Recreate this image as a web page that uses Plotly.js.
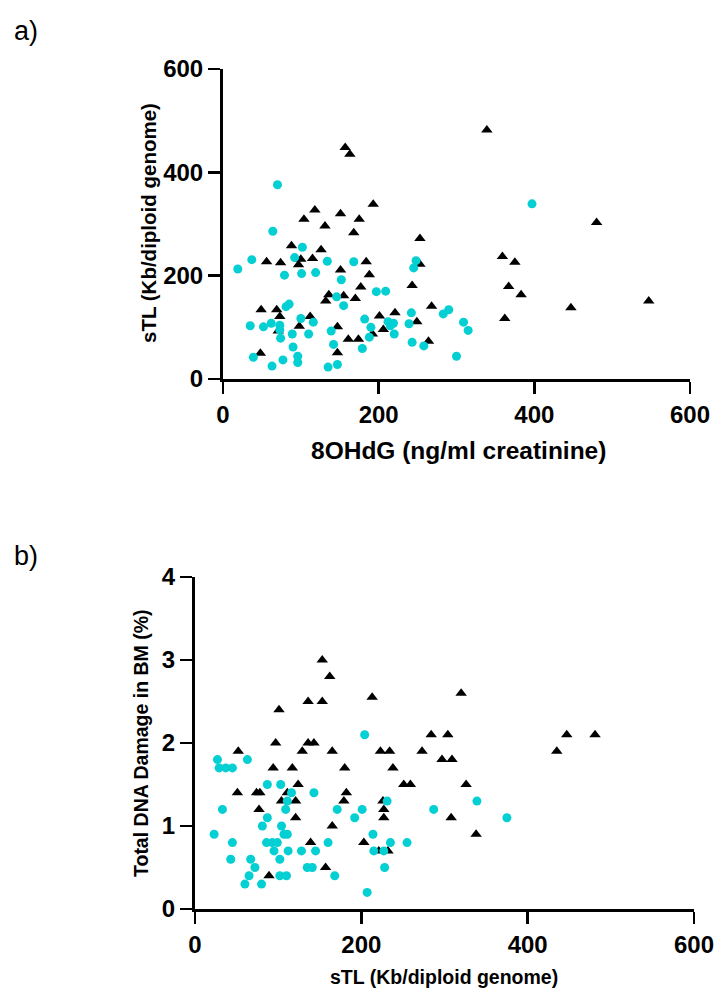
<!DOCTYPE html>
<html>
<head>
<meta charset="utf-8">
<script src="https://cdn.plot.ly/plotly-3.0.1.min.js"></script>
<style>html,body{margin:0;padding:0;background:#fff;}#chart{width:718px;height:990px;}</style>
</head>
<body>
<div id="chart"></div>
<script>
// Panel a: sTL vs 8OHdG
const aTriX = [157,163,339,193,480,118,104,131,151,175,168,253,88,126,359,375,56,74,100,115,97,184,253,151,188,177,243,367,383,136,132,155,170,268,447,547,49,69,73,112,201,221,249,362,98,147,206,71,192,161,174,264,48,147];
const aTriY = [448,435,482,338,303,327,309,296,320,309,283,272,258,250,237,226,227,225,232,233,221,227,222,211,202,178,181,179,163,163,151,161,156,141,138,151,134,134,121,121,122,128,111,117,102,101,96,93,87,77,77,73,50,51];
const aCirX = [70,64,19,37,102,92,79,101,119,134,168,152,146,155,81,85,100,116,35,52,62,73,73,74,89,110,90,139,142,39,77,63,96,96,135,147,182,190,188,179,248,245,197,209,212,219,215,220,242,239,243,258,283,290,309,315,300,397];
const aCirY = [376,286,213,231,255,235,201,204,206,228,227,192,159,142,140,145,117,110,103,101,108,104,95,79,87,87,62,93,67,42,37,25,44,32,23,28,116,100,81,59,229,215,169,170,111,108,103,87,128,107,71,64,126,134,110,94,44,339];

// Panel b: Total DNA damage vs sTL
const bTriX = [153,162,136,153,101,213,320,284,304,447,481,435,52,97,136,143,129,165,223,234,273,297,309,94,117,180,238,124,251,259,326,51,74,78,111,182,104,121,179,226,77,227,121,227,308,165,338,139,203,221,232,157,89];
const bTriY = [3.0,2.8,2.5,2.5,2.4,2.55,2.6,2.1,2.1,2.1,2.1,1.9,1.9,2.0,2.0,2.0,1.9,1.9,1.9,1.9,1.9,1.8,1.8,1.7,1.7,1.7,1.7,1.5,1.5,1.5,1.5,1.4,1.4,1.4,1.4,1.4,1.3,1.3,1.3,1.3,1.2,1.2,1.1,1.1,1.1,1.0,0.9,0.8,0.8,0.7,0.7,0.5,0.4];
const bCirX = [27,63,29,37,45,87,103,116,143,111,33,109,171,201,87,192,81,104,23,107,111,45,86,93,99,160,95,112,128,145,102,43,67,72,135,141,168,102,110,65,60,80,204,231,287,339,375,214,235,255,215,227,228,207];
const bCirY = [1.8,1.8,1.7,1.7,1.7,1.5,1.5,1.4,1.4,1.3,1.2,1.2,1.2,1.2,1.1,1.1,1.0,1.0,0.9,0.9,0.9,0.8,0.8,0.8,0.8,0.8,0.7,0.7,0.7,0.7,0.6,0.6,0.6,0.5,0.5,0.5,0.4,0.4,0.4,0.4,0.3,0.3,2.1,1.3,1.2,1.3,1.1,0.9,0.8,0.8,0.7,0.7,0.5,0.2];

const aTicks = [0,200,400,600];
const bXTicks = [0,200,400,600];
const bYTicks = [0,1,2,3,4];

const cyan = '#04CFD3';
const W = 718, H = 990;
const FONT = 'Liberation Sans, Arial, Helvetica, sans-serif';

const traces = [
  {x: aTriX, y: aTriY, xaxis:'x', yaxis:'y', type:'scatter', mode:'markers', cliponaxis:false,
   marker:{symbol:'triangle-up', size:10, color:'#000'}},
  {x: aCirX, y: aCirY, xaxis:'x', yaxis:'y', type:'scatter', mode:'markers', cliponaxis:false,
   marker:{symbol:'circle', size:9, color:cyan}},
  {x: bTriX, y: bTriY, xaxis:'x2', yaxis:'y2', type:'scatter', mode:'markers', cliponaxis:false,
   marker:{symbol:'triangle-up', size:10, color:'#000'}},
  {x: bCirX, y: bCirY, xaxis:'x2', yaxis:'y2', type:'scatter', mode:'markers', cliponaxis:false,
   marker:{symbol:'circle', size:9, color:cyan}}
];

function ax(extra){
  return Object.assign({
    showline:true, linewidth:3, linecolor:'#000', showgrid:false, zeroline:false,
    ticks:'outside', ticklen:12, tickwidth:2.5, tickcolor:'#000',
    tickfont:{family:FONT, size:24, weight:700, color:'#000'},
    fixedrange:true
  }, extra);
}

const layout = {
  width:W, height:H, margin:{l:0,r:0,t:0,b:0},
  paper_bgcolor:'#fff', plot_bgcolor:'#fff', showlegend:false,
  xaxis: ax({domain:[223/W, 690/W], range:[0,600], anchor:'y', tickvals:aTicks, ticktext:aTicks.map(String)}),
  yaxis: ax({domain:[1-379/H, 1-69/H], range:[0,600], anchor:'x', tickvals:aTicks, ticktext:aTicks.map(String)}),
  xaxis2: ax({domain:[195/W, 694/W], range:[0,600], anchor:'y2', tickvals:bXTicks, ticktext:bXTicks.map(String)}),
  yaxis2: ax({domain:[1-909/H, 1-577/H], range:[0,4], anchor:'x2', tickvals:bYTicks, ticktext:bYTicks.map(String)}),
  annotations:[
    {text:'a)', xref:'paper', yref:'paper', x:12/W, y:1-31/H, xanchor:'left', yanchor:'middle', showarrow:false,
     font:{family:FONT, size:27, color:'#000'}},
    {text:'b)', xref:'paper', yref:'paper', x:12/W, y:1-556/H, xanchor:'left', yanchor:'middle', showarrow:false,
     font:{family:FONT, size:27, color:'#000'}},
    {text:'8OHdG (ng/ml creatinine)', xref:'paper', yref:'paper', x:458/W, y:1-450/H, xanchor:'center', yanchor:'middle', showarrow:false,
     font:{family:FONT, size:24.5, weight:700, color:'#000'}},
    {text:'sTL (Kb/diploid genome)', xref:'paper', yref:'paper', x:148/W, y:1-223/H, xanchor:'center', yanchor:'middle', showarrow:false,
     textangle:-90, font:{family:FONT, size:20.5, weight:700, color:'#000'}},
    {text:'Total DNA Damage in BM (%)', xref:'paper', yref:'paper', x:141/W, y:1-743/H, xanchor:'center', yanchor:'middle', showarrow:false,
     textangle:-90, font:{family:FONT, size:19.5, weight:700, color:'#000'}},
    {text:'sTL (Kb/diploid genome)', xref:'paper', yref:'paper', x:444/W, y:1-977/H, xanchor:'center', yanchor:'middle', showarrow:false,
     font:{family:FONT, size:19.5, weight:700, color:'#000'}}
  ]
};

Plotly.newPlot('chart', traces, layout, {staticPlot:true, displayModeBar:false});
</script>
</body>
</html>
